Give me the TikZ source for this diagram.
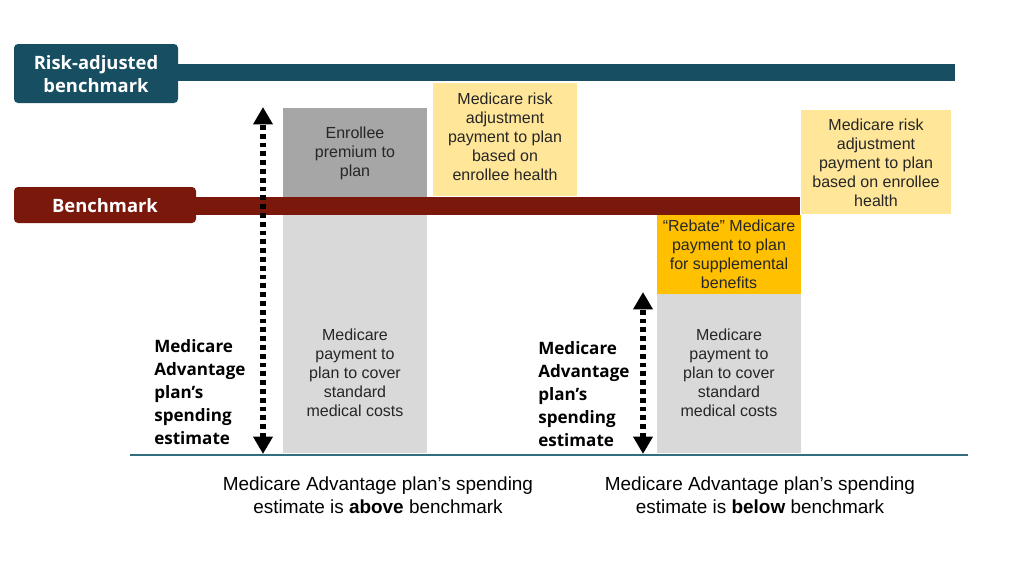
\documentclass[tikz,border=0pt]{standalone}
\usepackage{fontspec}
\setmainfont{Liberation Sans}
\newfontfamily\labfont{Open Sans}
\usetikzlibrary{arrows.meta}
\definecolor{tealbar}{RGB}{24,78,98}
\definecolor{redbar}{RGB}{122,24,12}
\definecolor{lightyel}{RGB}{255,230,153}
\definecolor{orangebox}{RGB}{255,192,0}
\definecolor{darkgray}{RGB}{166,166,166}
\definecolor{lightgray}{RGB}{217,217,217}
\definecolor{baseteal}{RGB}{50,110,125}
\definecolor{boxtext}{RGB}{38,38,38}
\begin{document}
\begin{tikzpicture}[x=0.75pt,y=-0.75pt,
  boxtxt/.style={align=center,inner sep=0pt,text=boxtext,font=\fontsize{12}{14.25}\selectfont},
  barlab/.style={align=center,inner sep=0pt,text=white,font=\labfont\bfseries\fontsize{13.8}{17.25}\selectfont},
  sidelab/.style={align=left,inner sep=0pt,anchor=west,text=black,font=\labfont\bfseries\fontsize{12.8}{17.25}\selectfont},
  caption/.style={align=center,inner sep=0pt,text=black,font=\fontsize{14.2}{17.25}\selectfont},
  dotarrow/.style={line width=4.2pt,dash pattern=on 3.6pt off 3pt,{Triangle[width=14pt,length=13pt]}-{Triangle[width=14pt,length=13pt]}}
]
\useasboundingbox (0,0) rectangle (1024,576);
\fill[white] (0,0) rectangle (1024,576);

% boxes
\fill[darkgray] (283,108) rectangle (427,197);
\fill[lightgray] (283,215) rectangle (427,453);
\fill[lightyel] (433,83) rectangle (577,196);
\fill[lightyel] (801,110) rectangle (951,214);
\fill[orangebox] (657,215) rectangle (801,294);
\fill[lightgray] (657,294) rectangle (801,453);

% bars
\fill[tealbar] (170,64) rectangle (955,81);
\fill[tealbar,rounded corners=3pt] (14,44) rectangle (178,103);
\fill[redbar] (190,197) rectangle (800,215);
\fill[redbar,rounded corners=3pt] (14,187) rectangle (196,223);

\node[barlab] (rab) at (96,74) {Risk-adjusted\\benchmark};
\node[barlab] (bm) at (105,205.5) {Benchmark};

% box texts
\node[boxtxt] (enr) at (355,153) {Enrollee\\premium to\\plan};
\node[boxtxt] (mp1) at (355,373) {Medicare\\payment to\\plan to cover\\standard\\medical costs};
\node[boxtxt] (ra1) at (505,136.5) {Medicare risk\\adjustment\\payment to plan\\based on\\enrollee health};
\node[boxtxt] (ra2) at (876,162.5) {Medicare risk\\adjustment\\payment to plan\\based on enrollee\\health};
\node[boxtxt] (reb) at (729,254) {“Rebate” Medicare\\payment to plan\\for supplemental\\benefits};
\node[boxtxt] (mp2) at (729,373) {Medicare\\payment to\\plan to cover\\standard\\medical costs};

% side labels
\node[sidelab] (sl1) at (154,392.5) {Medicare\\Advantage\\plan’s\\spending\\estimate};
\node[sidelab] (sl2) at (538,394.5) {Medicare\\Advantage\\plan’s\\spending\\estimate};

% baseline
\coordinate (b1) at (130,455);
\coordinate (b2) at (968,455);
\draw[baseteal,line width=1.1pt] (b1) -- (b2);

% arrows
\coordinate (a1t) at (263,107);
\coordinate (a1b) at (263,454);
\coordinate (a2t) at (643,292);
\coordinate (a2b) at (643,454);
\draw[dotarrow] (a1b) -- (a1t);
\draw[dotarrow] (a2b) -- (a2t);

% captions
\node[caption] (c1) at (378,495) {Medicare Advantage plan’s spending\\estimate is \textbf{above} benchmark};
\node[caption] (c2) at (760,495) {Medicare Advantage plan’s spending\\estimate is \textbf{below} benchmark};
\end{tikzpicture}
\end{document}
